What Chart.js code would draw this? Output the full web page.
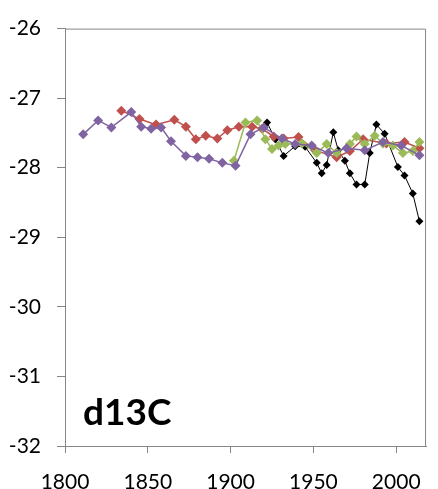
<!DOCTYPE html>
<html>
<head>
<meta charset="utf-8">
<script src="https://cdn.jsdelivr.net/npm/chart.js@4"></script>
<style>
  html, body { margin: 0; padding: 0; background: #fff; }
  #wrap { width: 438px; height: 489px; }
</style>
</head>
<body>
<div id="wrap"><canvas id="d13cChart"></canvas></div>
<script>
const purpleYears = [1811, 1820, 1828, 1840, 1846, 1852, 1858, 1864, 1873, 1880, 1887, 1895, 1903, 1912, 1920, 1931, 1939, 1949, 1959, 1970, 1981, 1992, 2003, 2014];
const purpleVals = [-27.52, -27.32, -27.42, -27.20, -27.41, -27.44, -27.42, -27.62, -27.83, -27.85, -27.87, -27.93, -27.97, -27.52, -27.42, -27.58, -27.66, -27.68, -27.79, -27.72, -27.75, -27.63, -27.68, -27.82];

const redYears = [1834, 1845, 1855, 1866, 1873, 1879, 1885, 1892, 1898, 1905, 1913, 1919, 1926, 1932, 1941, 1951, 1964, 1972, 1980, 1994, 2005, 2014];
const redVals = [-27.18, -27.30, -27.38, -27.31, -27.41, -27.59, -27.54, -27.58, -27.46, -27.41, -27.41, -27.44, -27.55, -27.58, -27.56, -27.75, -27.85, -27.76, -27.59, -27.65, -27.63, -27.72];

const greenYears = [1902, 1909, 1916, 1921, 1925, 1929, 1933, 1943, 1952, 1958, 1964, 1972, 1976, 1981, 1987, 1992, 1998, 2004, 2010, 2014];
const greenVals = [-27.90, -27.35, -27.32, -27.59, -27.73, -27.68, -27.66, -27.65, -27.79, -27.66, -27.79, -27.66, -27.55, -27.66, -27.54, -27.65, -27.68, -27.79, -27.76, -27.63];

const blackYears = [1922, 1927, 1932, 1939, 1945, 1952, 1955, 1958, 1962, 1965, 1969, 1972, 1976, 1981, 1984, 1988, 1993, 2001, 2005, 2010, 2014];
const blackVals = [-27.35, -27.59, -27.83, -27.69, -27.70, -27.93, -28.08, -27.96, -27.49, -27.75, -27.90, -28.08, -28.24, -28.24, -27.79, -27.38, -27.51, -27.99, -28.11, -28.37, -28.77];

const yTicks = [-32, -31, -30, -29, -28, -27, -26];
const xTicks = [1800, 1850, 1900, 1950, 2000];
const panelLabel = 'd13C';

function pts(xs, ys) {
  return xs.map((x, i) => ({ x: x, y: ys[i] }));
}

const axisGray = '#868686';

const panelText = {
  id: 'panelText',
  afterDatasetsDraw(chart) {
    const { ctx, chartArea } = chart;
    ctx.save();
    ctx.strokeStyle = axisGray;
    ctx.lineWidth = 1;
    ctx.beginPath();
    ctx.moveTo(chartArea.left, chartArea.top + 0.5);
    ctx.lineTo(chartArea.right - 0.5, chartArea.top + 0.5);
    ctx.lineTo(chartArea.right - 0.5, chartArea.bottom);
    ctx.stroke();
    ctx.fillStyle = '#000';
    ctx.font = 'bold 37px Lato, "Open Sans", sans-serif';
    ctx.textBaseline = 'alphabetic';
    ctx.fillText(panelLabel, chartArea.left + 18, chartArea.bottom - 21);
    ctx.restore();
  }
};

function series(label, xs, ys, color, width, r) {
  return {
    label: label,
    data: pts(xs, ys),
    borderColor: color,
    backgroundColor: color,
    borderWidth: width,
    pointStyle: 'rectRot',
    pointRadius: r,
    pointHoverRadius: r,
    pointBorderWidth: 0,
    showLine: true
  };
}

new Chart(document.getElementById('d13cChart'), {
  type: 'scatter',
  data: {
    datasets: [
      series('purple', purpleYears, purpleVals, '#8064A2', 1.5, 5),
      series('green', greenYears, greenVals, '#9BBB59', 1.5, 5),
      series('red', redYears, redVals, '#C0504D', 1.5, 5),
      series('black', blackYears, blackVals, '#000000', 1, 4)
    ]
  },
  options: {
    responsive: true,
    maintainAspectRatio: false,
    animation: false,
    layout: { padding: { top: 20, right: 4, left: 0, bottom: 0 } },
    plugins: { legend: { display: false }, tooltip: { enabled: false } },
    scales: {
      x: {
        type: 'linear',
        min: 1800,
        max: 2018,
        afterBuildTicks: s => { s.ticks = xTicks.map(v => ({ value: v })); },
        afterFit: s => { s.height = 43; },
        grid: { display: true, drawOnChartArea: false, color: axisGray, tickLength: 7 },
        border: { display: true, color: axisGray },
        ticks: { color: '#000', padding: 17, maxRotation: 0, font: { family: 'Lato', size: 21 },
                 callback: v => String(v) }
      },
      y: {
        min: -32,
        max: -26,
        afterBuildTicks: s => { s.ticks = yTicks.map(v => ({ value: v })); },
        afterFit: s => { s.width = 65; },
        grid: { display: true, drawOnChartArea: false, color: axisGray, tickLength: 8 },
        border: { display: true, color: axisGray },
        ticks: { color: '#000', padding: 16, font: { family: 'Lato', size: 21 } }
      }
    }
  },
  plugins: [panelText]
});
</script>
</body>
</html>
